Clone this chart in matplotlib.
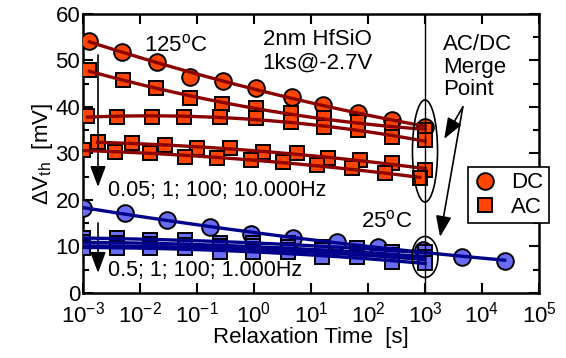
import matplotlib.pyplot as plt
import numpy as np
from matplotlib.patches import Ellipse

plt.rcParams['font.family'] = ['Liberation Sans', 'DejaVu Sans']
plt.rcParams['mathtext.fontset'] = 'custom'
plt.rcParams['mathtext.rm'] = 'Liberation Sans'
plt.rcParams['mathtext.it'] = 'Liberation Sans:italic'

# 125 C data
t_dc125 = [1.3e-3, 4.8e-3, 2e-2, 7.6e-2, 0.29, 1.1, 4.7, 16, 67, 260, 1000]
dv_dc125 = [54.3, 51.8, 49.6, 46.5, 45.6, 44.1, 42.2, 40.4, 38.7, 37.2, 35.7]

t_ac125_a = [1.3e-3, 5e-3, 1.9e-2, 7.5e-2, 0.28, 1.1, 4.5, 17, 67, 260, 1000]
dv_ac125_a = [47.9, 45.8, 44.1, 42.0, 40.6, 39.8, 38.7, 37.6, 36.8, 35.7, 35.0]

t_ac125_b = [1.2e-3, 4e-3, 1.6e-2, 6e-2, 0.25, 1.1, 4.5, 17, 67, 260, 1000]
dv_ac125_b = [38.0, 37.9, 37.9, 37.9, 37.8, 37.6, 36.8, 35.7, 35.0, 33.5, 32.9]

t_ac125_c = [1.8e-3, 7.2e-3, 2.75e-2, 0.1, 0.38, 1.45, 5.6, 20, 72, 263, 1000]
dv_ac125_c = [32.5, 32.2, 31.8, 31.1, 31.1, 30.4, 30.0, 29.0, 28.6, 27.9, 26.5]

t_ac125_d = [1e-3, 3.6e-3, 1.5e-2, 6.2e-2, 0.22, 0.9, 3.2, 13, 52, 200, 810]
dv_ac125_d = [30.8, 30.4, 30.0, 29.3, 29.0, 28.6, 28.2, 27.5, 26.8, 25.7, 24.7]

# 25 C data
t_dc25 = [1e-3, 5.5e-3, 2.95e-2, 0.17, 0.9, 4.8, 29, 150, 910, 4500, 25000]
dv_dc25 = [18.3, 17.2, 15.7, 14.2, 12.6, 11.8, 11.0, 9.9, 9.2, 7.7, 6.9]

t_ac25 = [1e-3, 4e-3, 1.5e-2, 6.2e-2, 0.25, 0.95, 4, 15.5, 65, 260, 1000]
dv_ac25_a = [11.8, 11.8, 11.4, 11.4, 10.8, 10.8, 10.8, 9.9, 9.7, 8.8, 8.8]
dv_ac25_b = [11.0, 10.8, 10.6, 10.4, 10.2, 10.0, 9.8, 9.2, 8.9, 8.2, 7.8]
dv_ac25_c = [10.2, 10.0, 10.0, 9.8, 9.6, 9.4, 9.2, 8.6, 8.3, 7.6, 7.2]
dv_ac25_d = [9.7, 9.7, 9.7, 9.7, 8.8, 8.8, 8.8, 7.7, 7.7, 6.7, 6.5]

red_face = '#ff4500'
red_line = '#8b0000'
blue_face = '#6a6cf6'
blue_line = '#00008b'


def plot_series(ax, t, dv, marker, face, line, ms):
    t = np.array(t)
    dv = np.array(dv)
    ax.plot(t, dv, linestyle='none', marker=marker, ms=ms, mfc=face,
            mec='k', mew=1.4, zorder=3)
    lt = np.log10(t)
    p = np.polyfit(lt, dv, 2)
    xs = np.linspace(lt[0], lt[-1], 100)
    ax.plot(10 ** xs, np.polyval(p, xs), color=line, lw=2.4, zorder=4)


fig = plt.figure(figsize=(5.66, 3.58), dpi=100)
ax = fig.add_axes([0.1466, 0.1816, 0.8057, 0.7793])

plot_series(ax, t_dc125, dv_dc125, 'o', red_face, red_line, 12)
plot_series(ax, t_ac125_a, dv_ac125_a, 's', red_face, red_line, 9.5)
plot_series(ax, t_ac125_b, dv_ac125_b, 's', red_face, red_line, 9.5)
plot_series(ax, t_ac125_c, dv_ac125_c, 's', red_face, red_line, 9.5)
plot_series(ax, t_ac125_d, dv_ac125_d, 's', red_face, red_line, 9.5)

plot_series(ax, t_dc25, dv_dc25, 'o', blue_face, blue_line, 12)
for dv in [dv_ac25_a, dv_ac25_b, dv_ac25_c, dv_ac25_d]:
    plot_series(ax, t_ac25, dv, 's', blue_face, blue_line, 9.5)

ax.set_xscale('log')
ax.set_xlim(1e-3, 1e5)
ax.set_ylim(0, 60)
ax.set_xticks([10.0 ** k for k in range(-3, 6)])
ax.set_xticklabels(['10$^{%d}$' % k for k in range(-3, 6)])
ax.xaxis.set_minor_locator(plt.NullLocator())
ax.set_yticks(range(0, 61, 10))
ax.set_yticks(range(5, 60, 10), minor=True)
ax.tick_params(which='both', direction='in', top=True, right=True,
               labelsize=16, width=1.5)
ax.tick_params(axis='x', pad=6)
ax.tick_params(axis='y', pad=2)
ax.tick_params(which='major', length=7)
ax.tick_params(which='minor', length=4)
for s in ax.spines.values():
    s.set_linewidth(1.8)

ax.set_xlabel('Relaxation Time  [s]', fontsize=16, labelpad=0)
ax.set_ylabel('ΔV$_{\\rm th}$  [mV]', fontsize=16, labelpad=0)

ax.axvline(1e3, color='k', lw=1.0, zorder=5)
ax.add_patch(Ellipse((0.75, 0.509), 0.055, 0.366, transform=ax.transAxes,
                     fill=False, ec='k', lw=1.2, zorder=6))
ax.add_patch(Ellipse((0.75, 0.129), 0.057, 0.147, transform=ax.transAxes,
                     fill=False, ec='k', lw=1.2, zorder=6))

arrow = dict(arrowstyle='-|>,head_length=0.8,head_width=0.3', color='k',
             lw=1.2, mutation_scale=16, shrinkA=0, shrinkB=0)
ax.annotate('', xy=(0.792, 0.552), xytext=(0.833, 0.667),
            xycoords='axes fraction', arrowprops=arrow)
ax.annotate('', xy=(0.783, 0.201), xytext=(0.833, 0.667),
            xycoords='axes fraction', arrowprops=arrow)
ax.annotate('', xy=(0.033, 0.380), xytext=(0.033, 0.853),
            xycoords='axes fraction', arrowprops=arrow)
ax.annotate('', xy=(0.033, 0.072), xytext=(0.033, 0.251),
            xycoords='axes fraction', arrowprops=arrow)

ax.text(0.204, 0.887, '125$^{\\rm o}$C', transform=ax.transAxes,
        fontsize=16, ha='center', va='center')
ax.text(0.515, 0.865, '2nm HfSiO\n1ks@-2.7V', transform=ax.transAxes,
        fontsize=16, ha='center', va='center', linespacing=1.15)
ax.text(0.789, 0.81, 'AC/DC\nMerge\nPoint', transform=ax.transAxes,
        fontsize=16, ha='left', va='center', linespacing=1.1)
ax.text(0.055, 0.369, '0.05; 1; 100; 10.000Hz', transform=ax.transAxes,
        fontsize=15.5, ha='left', va='center')
ax.text(0.055, 0.079, '0.5; 1; 100; 1.000Hz', transform=ax.transAxes,
        fontsize=15.5, ha='left', va='center')
ax.text(0.667, 0.255, '25$^{\\rm o}$C', transform=ax.transAxes,
        fontsize=16, ha='center', va='center')

h_dc, = ax.plot([], [], 'o', ms=12, mfc=red_face, mec='k', mew=1.4)
h_ac, = ax.plot([], [], 's', ms=9.5, mfc=red_face, mec='k', mew=1.4)
leg = ax.legend([h_dc, h_ac], ['DC', 'AC'], loc='upper left',
                bbox_to_anchor=(0.844, 0.452), borderaxespad=0,
                fancybox=False, edgecolor='k', framealpha=1, fontsize=16,
                handlelength=1.0, handletextpad=0.7, borderpad=0.25,
                labelspacing=0.15)
leg.get_frame().set_linewidth(1.2)
leg.set_zorder(10)

fig.savefig('out.png', dpi=100)
